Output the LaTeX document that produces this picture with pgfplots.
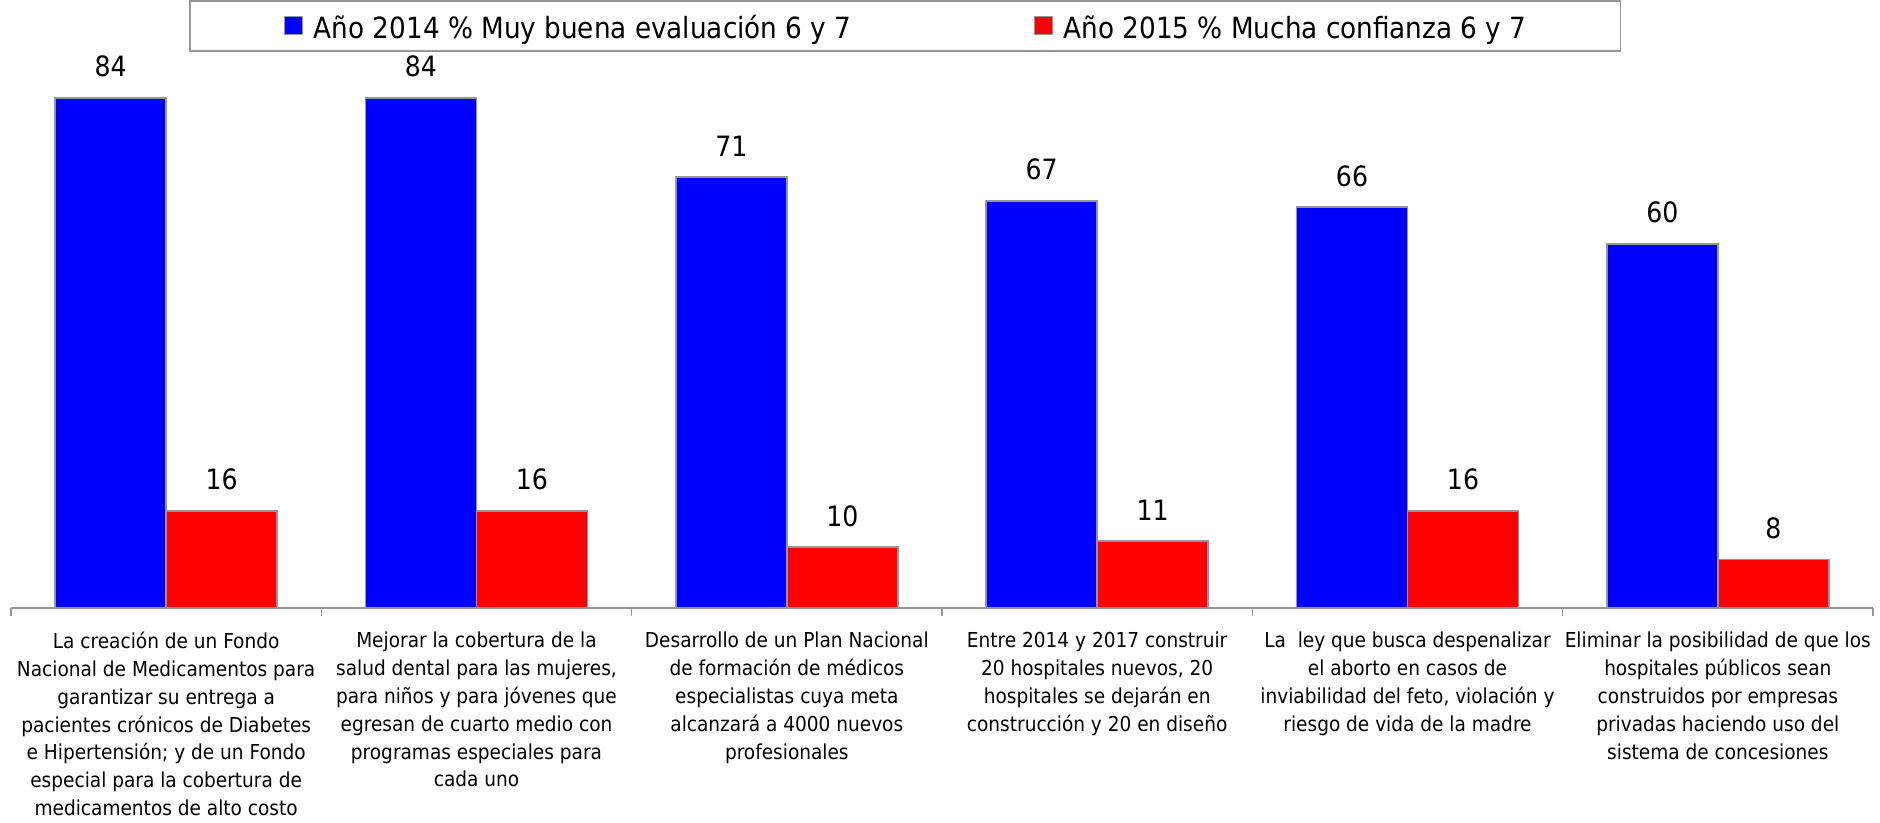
\documentclass[border=0pt]{standalone}
\usepackage{fontspec}
\setmainfont{DejaVu Sans Condensed}
\usepackage{pgfplots}
\pgfplotsset{compat=1.18}
\definecolor{barblue}{RGB}{0,0,255}
\definecolor{barred}{RGB}{255,0,0}
\definecolor{edgegray}{RGB}{150,150,150}
\begin{document}
\begin{tikzpicture}
\begin{axis}[
  scale only axis,
  width=931pt, height=273.2pt,
  xmin=-0.5, xmax=5.5, ymin=0, ymax=90,
  ybar=0pt, bar width=55.5pt,
  hide y axis,
  axis x line*=bottom,
  x axis line style={draw=edgegray, line width=0.8pt},
  xtick={0,1,2,3,4,5},
  major tick length=0pt,
  xticklabels={
    {La creación de un Fondo\\Nacional de Medicamentos para\\garantizar su entrega a\\pacientes crónicos de Diabetes\\e Hipertensión; y de un Fondo\\especial para la cobertura de\\medicamentos de alto costo},
    {Mejorar la cobertura de la\\salud dental para las mujeres,\\para niños y para jóvenes que\\egresan de cuarto medio con\\programas especiales para\\cada uno},
    {Desarrollo de un Plan Nacional\\de formación de médicos\\especialistas cuya meta\\alcanzará a 4000 nuevos\\profesionales},
    {Entre 2014 y 2017 construir\\20 hospitales nuevos, 20\\hospitales se dejarán en\\construcción y 20 en diseño},
    {La \ ley que busca despenalizar\\el aborto en casos de\\inviabilidad del feto, violación y\\riesgo de vida de la madre},
    {Eliminar la posibilidad de que los\\hospitales públicos sean\\construidos por empresas\\privadas haciendo uso del\\sistema de concesiones}
  },
  xticklabel style={align=center, font=\fontsize{10.3}{13.9}\selectfont, anchor=north, yshift=-8.6pt},
  extra x ticks={-0.5,0.5,1.5,2.5,3.5,4.5,5.5},
  extra x tick labels={},
  extra x tick style={major tick length=4pt, tick align=outside, tick style={draw=edgegray, line width=0.8pt}},
  /pgf/number format/assume math mode=true,
  nodes near coords,
  nodes near coords style={font=\fontsize{14}{16}\selectfont, text=black},
  every node near coord/.append style={yshift=6.7pt},
  legend columns=2,
  legend style={at={(0.0956,1)}, anchor=north west, yshift=30.8pt,
    draw=edgegray, line width=0.8pt, font=\fontsize{14.6}{16}\selectfont,
    nodes={inner sep=0pt, text height=19.1pt, text depth=6pt},
    /tikz/every odd column/.append style={column sep=5.5pt},
    /tikz/every even column/.append style={column sep=91pt},
    inner xsep=47pt, inner ysep=0pt},
  legend image code/.code={\draw[#1,draw=edgegray,line width=0.6pt] (0pt,-4.5pt) rectangle (9pt,4.5pt);},
  clip=false,
]
\addplot[fill=barblue, draw=edgegray, line width=0.8pt] coordinates {(0,84) (1,84) (2,71) (3,67) (4,66) (5,60)};
\addplot[fill=barred, draw=edgegray, line width=0.8pt] coordinates {(0,16) (1,16) (2,10) (3,11) (4,16) (5,8)};
\legend{Año 2014 \% Muy buena evaluación 6 y 7, Año 2015 \% Mucha confianza 6 y 7}
\end{axis}
\path ([xshift=-5.5pt]current axis.south west) ([xshift=3.5pt]current axis.south east);
\end{tikzpicture}
\end{document}
